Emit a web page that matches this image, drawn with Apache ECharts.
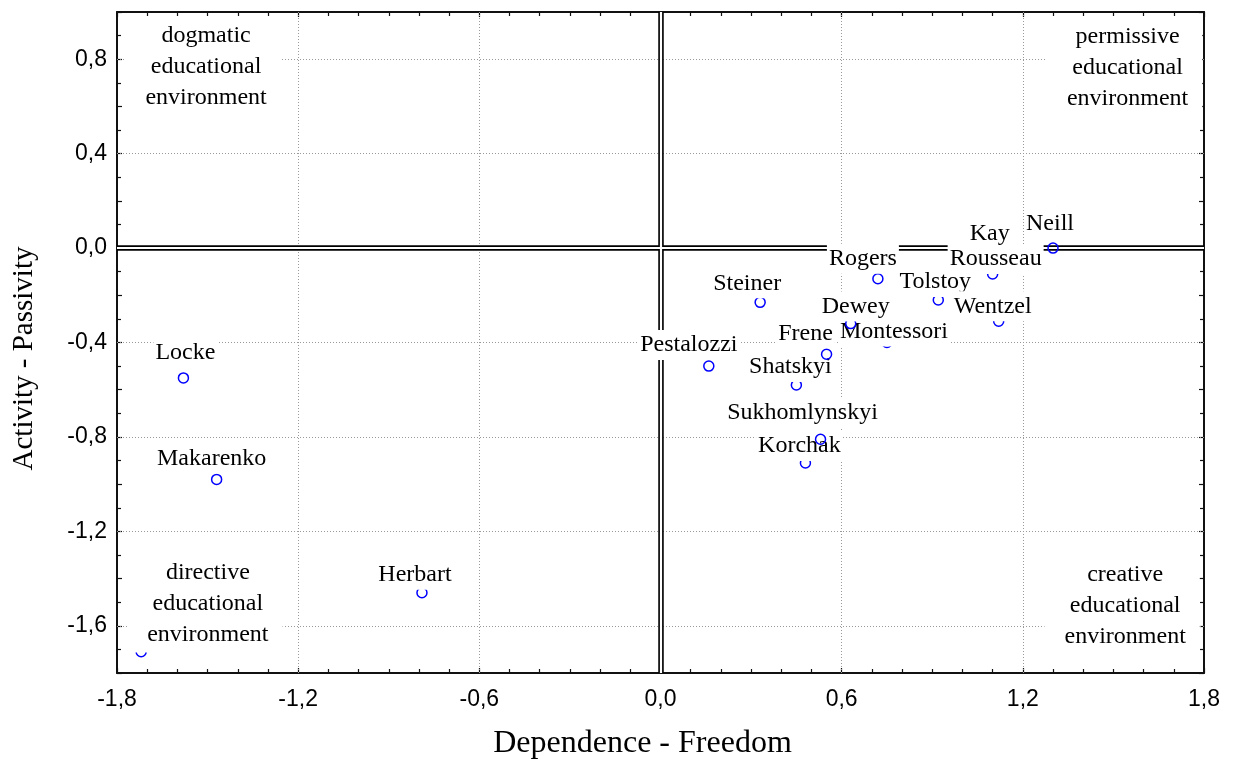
<!DOCTYPE html>
<html>
<head>
<meta charset="utf-8">
<script src="https://cdn.jsdelivr.net/npm/echarts@6/dist/echarts.min.js"></script>
<style>
  html, body { margin: 0; padding: 0; background: #fff; }
  #chart { width: 1237px; height: 765px; }
</style>
</head>
<body>
<div id="chart"></div>
<script>
// ---- data ----
const names = ['Locke','Makarenko','Herbart','Pestalozzi','Steiner','Rogers','Dewey','Frene','Shatskyi','Sukhomlynskyi','Korchak','Montessori','Tolstoy','Wentzel','Rousseau','Kay','Neill'];
const freedom  = [-1.58, -1.47, -0.79, 0.16, 0.33, 0.72, 0.63, 0.55, 0.45, 0.53, 0.48, 0.75, 0.92, 1.12, 1.10, 1.10, 1.30];
const activity = [-0.55, -0.98, -1.46, -0.50, -0.23, -0.13, -0.32, -0.45, -0.58, -0.81, -0.91, -0.40, -0.22, -0.31, -0.11, -0.03, 0.00];

// points whose labels are the quadrant captions (mostly hidden behind them)
const anchorX = [1.325, -1.72];
const anchorY = [0.64, -1.71];

const quadrantText = ['dogmatic\neducational\nenvironment', 'permissive\neducational\nenvironment', 'directive\neducational\nenvironment', 'creative\neducational\nenvironment'];
const quadrantX = [-1.515, 1.537, -1.509, 1.529];
const quadrantY = [0.768, 0.764, -1.508, -1.517];

const xTicks = [-1.8, -1.2, -0.6, 0.0, 0.6, 1.2, 1.8];
const yTicks = [-1.6, -1.2, -0.8, -0.4, 0.0, 0.4, 0.8];

const xTitle = 'Dependence - Freedom';
const yTitle = 'Activity - Passivity';

// ---- layout (label nudges in px, draw order) ----
const labelNudge = {
  Locke: [2, -25], Makarenko: [-5, -21], Herbart: [-7, -18], Pestalozzi: [-20, -21],
  Steiner: [-13, -19], Rogers: [-15, -20], Dewey: [5, -17], Frene: [-21, -21],
  Shatskyi: [-6, -18], Sukhomlynskyi: [-18, -27], Korchak: [-6, -17], Montessori: [7, -11],
  Tolstoy: [-3, -18], Wentzel: [-6, -15], Rousseau: [3, -15], Kay: [-3, -21], Neill: [-3, -24]
};
const frontLayer = ['Dewey', 'Frene', 'Sukhomlynskyi', 'Wentzel'];

const fmt = v => v.toFixed(1).replace('.', ',');
const isTick = (arr, v) => arr.some(t => Math.abs(t - v) < 1e-6);

const serif = '"Liberation Serif", "Times New Roman", serif';
const sans = '"Liberation Sans", Arial, sans-serif';
const frame = { color: '#111', width: 2 };

const chart = echarts.init(document.getElementById('chart'), null, { renderer: 'canvas' });

const xBase = {
  min: -1.8, max: 1.8, interval: 0.6,
  axisLine: { show: true, onZero: false, lineStyle: frame },
  axisTick: { show: true, inside: true, length: 5, lineStyle: { color: '#111', width: 1.2 } },
  minorTick: { show: true, splitNumber: 6, length: 4, lineStyle: { color: '#111', width: 1.2 } },
  splitLine: { show: false }
};
const yBase = {
  min: -1.8, max: 1.0, interval: 0.2,
  axisLine: { show: true, onZero: false, lineStyle: frame },
  axisTick: { show: true, inside: true, length: 5, lineStyle: { color: '#111', width: 1.2 } },
  minorTick: { show: true, splitNumber: 2, length: 4, lineStyle: { color: '#111', width: 1.2 } },
  splitLine: { show: false }
};

const labelBox = {
  show: true,
  position: 'inside',
  color: '#000',
  fontFamily: serif,
  fontSize: 24,
  lineHeight: 24,
  backgroundColor: '#fff',
  textBorderWidth: 0,
  textShadowBlur: 0,
  opacity: 1,
  padding: [3, 2]
};

const circleStyle = { color: 'rgba(255,255,255,0)', borderColor: '#0000ff', borderWidth: 1.5, opacity: 1 };

function authorSeries(seriesName, z, inFront) {
  const idx = names.map((n, i) => i).filter(i => frontLayer.includes(names[i]) === inFront);
  return {
    name: seriesName, type: 'scatter', z: z, silent: true,
    symbol: 'circle', symbolSize: 10,
    itemStyle: circleStyle,
    labelLayout: function (p) {
      const d = labelNudge[names[idx[p.dataIndex]]] || [0, -20];
      return { dx: d[0], dy: d[1], hideOverlap: false };
    },
    data: idx.map(i => ({
      name: names[i],
      value: [freedom[i], activity[i]],
      label: Object.assign({}, labelBox, { formatter: names[i] })
    }))
  };
}

const option = {
  animation: false,
  backgroundColor: '#fff',
  grid: { left: 117, right: 33, top: 12, bottom: 90, containLabel: false },
  xAxis: [
    Object.assign({}, xBase, {
      type: 'value', position: 'bottom',
      name: xTitle, nameLocation: 'middle', nameGap: 55,
      nameTextStyle: { fontFamily: serif, fontSize: 32, color: '#000', padding: [0, 36, 0, 0] },
      axisLabel: {
        show: true, margin: 15, fontFamily: sans, fontSize: 23, color: '#000',
        formatter: v => isTick(xTicks, v) ? fmt(v) : ''
      }
    }),
    Object.assign({}, xBase, { type: 'value', position: 'top', axisLabel: { show: false } })
  ],
  yAxis: [
    Object.assign({}, yBase, {
      type: 'value', position: 'left',
      name: yTitle, nameLocation: 'middle', nameGap: 78,
      nameTextStyle: { fontFamily: serif, fontSize: 29, color: '#000', padding: [0, 32, 0, 0] },
      axisLabel: {
        show: true, margin: 10, fontFamily: sans, fontSize: 23, color: '#000',
        formatter: v => isTick(yTicks, v) ? fmt(v) : ''
      }
    }),
    Object.assign({}, yBase, { type: 'value', position: 'right', axisLabel: { show: false } })
  ],
  series: [
    {
      name: 'grid', type: 'scatter', data: [], z: 1, silent: true,
      markLine: {
        z: 1,
        silent: true, symbol: 'none', animation: false,
        label: { show: false },
        lineStyle: { type: [1, 2], color: '#999', width: 1 },
        emphasis: { disabled: true },
        data: xTicks.filter(v => v > -1.8 && v < 1.8).map(v => ({ xAxis: v }))
          .concat(yTicks.map(v => ({ yAxis: v })))
      }
    },
    {
      name: 'origin', type: 'scatter', data: [], z: 2, silent: true,
      markLine: {
        z: 2,
        silent: true, symbol: 'none', animation: false,
        label: { show: false },
        emphasis: { disabled: true },
        data: [
          { xAxis: 0, lineStyle: { type: 'solid', color: '#000', width: 5.5 } },
          { yAxis: 0, lineStyle: { type: 'solid', color: '#000', width: 5.5 } },
          { xAxis: 0, lineStyle: { type: 'solid', color: '#fff', width: 2.2 } },
          { yAxis: 0, lineStyle: { type: 'solid', color: '#fff', width: 2.2 } }
        ]
      }
    },
    {
      name: 'anchors', type: 'scatter', z: 3, silent: true,
      symbol: 'circle', symbolSize: 10,
      itemStyle: circleStyle,
      data: anchorX.map((x, i) => [x, anchorY[i]])
    },
    authorSeries('authors', 4, false),
    authorSeries('authors-front', 5, true),
    {
      name: 'quadrants', type: 'scatter', z: 6, silent: true,
      symbol: 'circle', symbolSize: 0,
      itemStyle: { color: 'rgba(0,0,0,0)', opacity: 1 },
      data: quadrantText.map((t, i) => ({
        value: [quadrantX[i], quadrantY[i]],
        label: Object.assign({}, labelBox, {
          formatter: t, lineHeight: 31, fontSize: 24, padding: [2, 14, 2, 20], align: 'center'
        })
      }))
    }
  ]
};

chart.setOption(option);
</script>
</body>
</html>
